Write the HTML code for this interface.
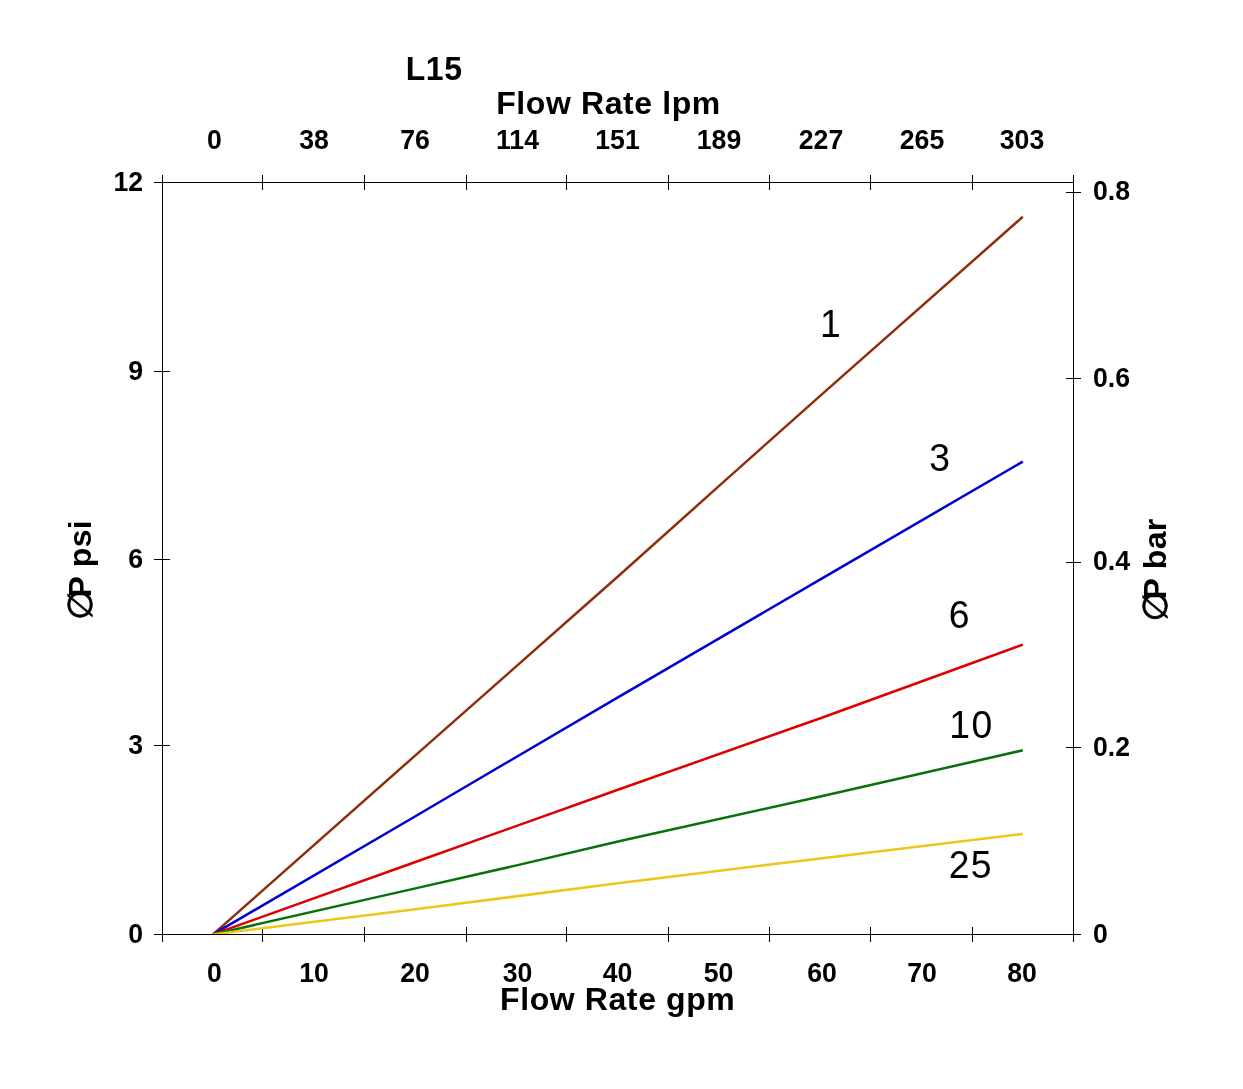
<!DOCTYPE html>
<html lang="en">
<head>
<meta charset="utf-8">
<title>L15 Flow Rate vs Pressure Drop</title>
<style>
  html, body { margin: 0; padding: 0; background: #ffffff; }
  body { width: 1243px; height: 1089px; overflow: hidden; }
  svg { display: block; will-change: transform; }
  text { font-family: "Liberation Sans", Arial, Helvetica, sans-serif; fill: #000000; }
  .tick { font-size: 26.67px; font-weight: bold; }
  .title { font-size: 32px; font-weight: bold; letter-spacing: 0.6px; }
  .series { font-size: 37.33px; font-weight: normal; letter-spacing: 1.4px; }
  .ax line { stroke: #000000; stroke-width: 1; shape-rendering: crispEdges; }
  .curve { fill: none; stroke-width: 2.5; stroke-linejoin: round; stroke-linecap: butt; }
  .ytl { letter-spacing: 0.3px; }
  .sym { font-family: "DejaVu Sans", "Liberation Sans", sans-serif; font-weight: normal; letter-spacing: 0; }
</style>
</head>
<body>
<svg width="1243" height="1089" viewBox="0 0 1243 1089">
  <rect x="0" y="0" width="1243" height="1089" fill="#ffffff"/>

  <!-- axes frame -->
  <g class="ax">
    <line x1="162.5" y1="182" x2="162.5" y2="935"/>
    <line x1="1073.5" y1="182" x2="1073.5" y2="935"/>
    <line x1="154" y1="182.5" x2="1074" y2="182.5"/>
    <line x1="154" y1="934.5" x2="1081" y2="934.5"/>
  </g>
  <!-- top ticks -->
  <g class="ax">
    <line x1="162.5" y1="175" x2="162.5" y2="190"/>
    <line x1="262.5" y1="175" x2="262.5" y2="190"/>
    <line x1="364.5" y1="175" x2="364.5" y2="190"/>
    <line x1="466.5" y1="175" x2="466.5" y2="190"/>
    <line x1="566.5" y1="175" x2="566.5" y2="190"/>
    <line x1="668.5" y1="175" x2="668.5" y2="190"/>
    <line x1="769.5" y1="175" x2="769.5" y2="190"/>
    <line x1="870.5" y1="175" x2="870.5" y2="190"/>
    <line x1="972.5" y1="175" x2="972.5" y2="190"/>
    <line x1="1073.5" y1="175" x2="1073.5" y2="190"/>
  </g>
  <!-- bottom ticks -->
  <g class="ax">
    <line x1="162.5" y1="927" x2="162.5" y2="942"/>
    <line x1="262.5" y1="927" x2="262.5" y2="942"/>
    <line x1="364.5" y1="927" x2="364.5" y2="942"/>
    <line x1="466.5" y1="927" x2="466.5" y2="942"/>
    <line x1="566.5" y1="927" x2="566.5" y2="942"/>
    <line x1="668.5" y1="927" x2="668.5" y2="942"/>
    <line x1="769.5" y1="927" x2="769.5" y2="942"/>
    <line x1="870.5" y1="927" x2="870.5" y2="942"/>
    <line x1="972.5" y1="927" x2="972.5" y2="942"/>
    <line x1="1073.5" y1="927" x2="1073.5" y2="942"/>
  </g>
  <!-- left ticks -->
  <g class="ax">
    <line x1="154" y1="371.5" x2="170" y2="371.5"/>
    <line x1="154" y1="559.5" x2="170" y2="559.5"/>
    <line x1="154" y1="745.5" x2="170" y2="745.5"/>
  </g>
  <!-- right ticks -->
  <g class="ax">
    <line x1="1066" y1="192.5" x2="1081" y2="192.5"/>
    <line x1="1066" y1="378.5" x2="1081" y2="378.5"/>
    <line x1="1066" y1="562.5" x2="1081" y2="562.5"/>
    <line x1="1066" y1="747.5" x2="1081" y2="747.5"/>
  </g>
  <!-- data curves -->
  <clipPath id="plotclip"><rect x="163" y="183" width="910" height="751"/></clipPath>
  <g clip-path="url(#plotclip)">
    <polyline class="curve" stroke="#8c300a" points="213,934.4 415.4,755.34 617.9,576.5 719.1,485.92 820.4,395.66 1022.8,216.8"/>
    <polyline class="curve" stroke="#0000d4" points="213,934.4 415.4,816.23 617.9,697.3 820.4,579.37 1022.8,461.6"/>
    <polyline class="curve" stroke="#dc0000" points="213,934.4 415.4,861.97 617.9,789.8 820.4,718.23 1022.8,644.6"/>
    <polyline class="curve" stroke="#0a700a" points="213,934.4 415.4,888.39 516.6,865.38 617.9,841.45 820.4,796.51 1022.8,750.3"/>
    <polyline class="curve" stroke="#eec618" points="213,934.4 415.4,909.28 617.9,883.25 820.4,858.42 1022.8,833.9"/>
  </g>
  <!-- titles -->
  <g transform="scale(1,1.04)"><text class="title" x="405.7" y="76.73">L15</text></g>
  <text class="title" x="496.2" y="114.2">Flow Rate lpm</text>
  <text class="title" x="500" y="1009.7">Flow Rate gpm</text>
  <!-- top tick labels (lpm) -->
  <g class="tick" text-anchor="middle" transform="scale(1,1.04)">
    <text x="214.5" y="142.98">0</text>
    <text x="314" y="142.98">38</text>
    <text x="415" y="142.98">76</text>
    <text x="517.5" y="142.98">114</text>
    <text x="617.5" y="142.98">151</text>
    <text x="719" y="142.98">189</text>
    <text x="821" y="142.98">227</text>
    <text x="922" y="142.98">265</text>
    <text x="1022" y="142.98">303</text>
  </g>
  <!-- bottom tick labels (gpm) -->
  <g class="tick" text-anchor="middle" transform="scale(1,1.04)">
    <text x="214.5" y="944.23">0</text>
    <text x="314" y="944.23">10</text>
    <text x="415" y="944.23">20</text>
    <text x="517.5" y="944.23">30</text>
    <text x="617.5" y="944.23">40</text>
    <text x="718.5" y="944.23">50</text>
    <text x="822" y="944.23">60</text>
    <text x="922" y="944.23">70</text>
    <text x="1022" y="944.23">80</text>
  </g>
  <!-- left tick labels (psi) -->
  <g class="tick" text-anchor="end" transform="scale(1,1.04)">
    <text x="143.2" y="183.56">12</text>
    <text x="143.2" y="365.29">9</text>
    <text x="143.2" y="546.15">6</text>
    <text x="143.2" y="724.9">3</text>
    <text x="143.2" y="906.73">0</text>
  </g>
  <!-- right tick labels (bar) -->
  <g class="tick" text-anchor="start" transform="scale(1,1.04)">
    <text x="1093" y="191.92">0.8</text>
    <text x="1093" y="371.83">0.6</text>
    <text x="1093" y="547.69">0.4</text>
    <text x="1093" y="726.54">0.2</text>
    <text x="1093" y="906.44">0</text>
  </g>
  <!-- series labels -->
  <g class="series" transform="scale(1,1.04)">
    <text x="819.9" y="323.85">1</text>
    <text x="929.2" y="453.17">3</text>
    <text x="948.8" y="603.65">6</text>
    <text x="949.3" y="709.33">10</text>
    <text x="948.7" y="844.42">25</text>
  </g>
  <!-- rotated axis titles -->
  <g>
    <text class="sym" font-size="32" stroke="#000" stroke-width="0.8" transform="translate(92,619.98) rotate(-90) scale(1.11,1.07)">∅</text>
    <text class="title ytl" transform="translate(90.9,597.4) rotate(-90)">P psi</text>
  </g>
  <g>
    <text class="sym" font-size="32" stroke="#000" stroke-width="0.8" transform="translate(1167,621.48) rotate(-90) scale(1.11,1.07)">∅</text>
    <text class="title ytl" transform="translate(1165.9,599.4) rotate(-90)">P bar</text>
  </g>
</svg>
</body>
</html>
